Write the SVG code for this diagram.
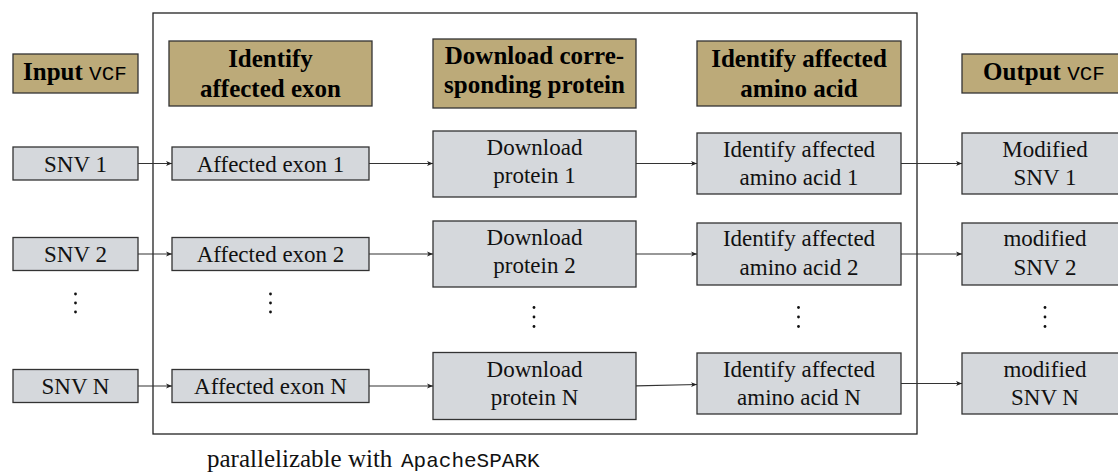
<svg xmlns="http://www.w3.org/2000/svg" width="1118" height="473" viewBox="0 0 1118 473">
  <style>
    .hdr { fill: #bcaa79; stroke: #333; stroke-width: 1.3; }
    .box { fill: #d5d8dc; stroke: #333; stroke-width: 1.3; }
    .ht { font-weight: bold; font-size: 25px; fill: #000; text-anchor: middle; }
    .bt { font-size: 23px; fill: #111; text-anchor: middle; }
    .cap { font-size: 25px; fill: #111; }
    .tt { font-weight: normal; font-size: 21px; }
    .edge { stroke: #333; stroke-width: 1.2; fill: none; marker-end: url(#tip); }
    .frame { fill: none; stroke: #222; stroke-width: 1.3; }
    .dot { fill: #111; }
  </style>
  <defs>
    <marker id="tip" markerUnits="userSpaceOnUse" markerWidth="7" markerHeight="6" refX="6" refY="3" orient="auto">
      <path d="M0,0.6 L6,3 L0,5.4 L1.6,3 z" fill="#222"/>
    </marker>
  </defs>

  <rect width="1118" height="473" fill="#fff"/>

  <!-- parallel section frame -->
  <rect id="spark-frame" class="frame" x="153" y="13" width="764" height="421"/>

  <g font-family="Liberation Serif, Times New Roman, serif">
  <!-- column headers -->
  <g id="hdr-input">
    <rect class="hdr" x="13" y="54" width="125" height="39"/>
    <text class="ht" x="75" y="80">Input <tspan class="tt" font-family="Liberation Mono, Courier New, monospace">VCF</tspan></text>
  </g>
  <g id="hdr-exon">
    <rect class="hdr" x="169" y="41" width="203" height="65"/>
    <text class="ht" x="270.5" y="66.5">Identify</text>
    <text class="ht" x="270.5" y="96.5">affected exon</text>
  </g>
  <g id="hdr-protein">
    <rect class="hdr" x="433" y="39" width="203" height="69"/>
    <text class="ht" x="534.5" y="63.5">Download corre-</text>
    <text class="ht" x="534.5" y="93">sponding protein</text>
  </g>
  <g id="hdr-amino">
    <rect class="hdr" x="697" y="41" width="204" height="65"/>
    <text class="ht" x="799" y="66.5">Identify affected</text>
    <text class="ht" x="799" y="96.5">amino acid</text>
  </g>
  <g id="hdr-output">
    <rect class="hdr" x="962" y="54" width="166" height="39"/>
    <text class="ht" x="1044" y="80">Output <tspan class="tt" font-family="Liberation Mono, Courier New, monospace">VCF</tspan></text>
  </g>

  <!-- row 1 -->
  <g id="snv1">
    <rect class="box" x="13" y="147" width="125" height="33"/>
    <text class="bt" x="75.5" y="171.5">SNV 1</text>
  </g>
  <g id="exon1">
    <rect class="box" x="172" y="147" width="197" height="33"/>
    <text class="bt" x="270.5" y="171.5">Affected exon 1</text>
  </g>
  <g id="protein1">
    <rect class="box" x="433" y="131" width="203" height="66"/>
    <text class="bt" x="534.5" y="155">Download</text>
    <text class="bt" x="534.5" y="183">protein 1</text>
  </g>
  <g id="amino1">
    <rect class="box" x="697" y="133" width="204" height="61"/>
    <text class="bt" x="799" y="156.5">Identify affected</text>
    <text class="bt" x="799" y="185">amino acid 1</text>
  </g>
  <g id="out1">
    <rect class="box" x="962" y="133" width="166" height="61"/>
    <text class="bt" x="1045" y="156.5">Modified</text>
    <text class="bt" x="1045" y="185">SNV 1</text>
  </g>

  <!-- row 2 -->
  <g id="snv2">
    <rect class="box" x="13" y="237.5" width="125" height="33"/>
    <text class="bt" x="75.5" y="262">SNV 2</text>
  </g>
  <g id="exon2">
    <rect class="box" x="172" y="237.5" width="197" height="33"/>
    <text class="bt" x="270.5" y="262">Affected exon 2</text>
  </g>
  <g id="protein2">
    <rect class="box" x="433" y="221" width="203" height="66"/>
    <text class="bt" x="534.5" y="245">Download</text>
    <text class="bt" x="534.5" y="273">protein 2</text>
  </g>
  <g id="amino2">
    <rect class="box" x="697" y="223" width="204" height="62"/>
    <text class="bt" x="799" y="246">Identify affected</text>
    <text class="bt" x="799" y="274.5">amino acid 2</text>
  </g>
  <g id="out2">
    <rect class="box" x="962" y="223" width="166" height="62"/>
    <text class="bt" x="1045" y="246">modified</text>
    <text class="bt" x="1045" y="274.5">SNV 2</text>
  </g>

  <!-- row N -->
  <g id="snvN">
    <rect class="box" x="13" y="369.5" width="125" height="33"/>
    <text class="bt" x="75.5" y="394">SNV N</text>
  </g>
  <g id="exonN">
    <rect class="box" x="172" y="369.5" width="197" height="33"/>
    <text class="bt" x="270.5" y="394">Affected exon N</text>
  </g>
  <g id="proteinN">
    <rect class="box" x="433" y="352.5" width="203" height="67"/>
    <text class="bt" x="534.5" y="377">Download</text>
    <text class="bt" x="534.5" y="405">protein N</text>
  </g>
  <g id="aminoN">
    <rect class="box" x="697" y="353" width="204" height="61"/>
    <text class="bt" x="799" y="376.5">Identify affected</text>
    <text class="bt" x="799" y="405">amino acid N</text>
  </g>
  <g id="outN">
    <rect class="box" x="962" y="353" width="166" height="61"/>
    <text class="bt" x="1045" y="376.5">modified</text>
    <text class="bt" x="1045" y="405">SNV N</text>
  </g>

  <!-- frame caption -->
  <text class="cap" x="207" y="466.5">parallelizable with <tspan class="tt" x="401" font-family="Liberation Mono, Courier New, monospace">ApacheSPARK</tspan></text>
  </g>

  <!-- vertical ellipses between row 2 and row N -->
  <g id="ellipses">
    <circle class="dot" cx="75.5" cy="294" r="1.4"/>
    <circle class="dot" cx="75.5" cy="303" r="1.4"/>
    <circle class="dot" cx="75.5" cy="312" r="1.4"/>
    <circle class="dot" cx="270.5" cy="294" r="1.4"/>
    <circle class="dot" cx="270.5" cy="303" r="1.4"/>
    <circle class="dot" cx="270.5" cy="312" r="1.4"/>
    <circle class="dot" cx="534" cy="307.5" r="1.4"/>
    <circle class="dot" cx="534" cy="317" r="1.4"/>
    <circle class="dot" cx="534" cy="326.5" r="1.4"/>
    <circle class="dot" cx="798.5" cy="307.5" r="1.4"/>
    <circle class="dot" cx="798.5" cy="317" r="1.4"/>
    <circle class="dot" cx="798.5" cy="326.5" r="1.4"/>
    <circle class="dot" cx="1045" cy="307.5" r="1.4"/>
    <circle class="dot" cx="1045" cy="317" r="1.4"/>
    <circle class="dot" cx="1045" cy="326.5" r="1.4"/>
  </g>

  <!-- connectors -->
  <g id="connectors">
    <line class="edge" x1="138" y1="163.5" x2="172" y2="163.5"/>
    <line class="edge" x1="369" y1="163.5" x2="433" y2="163.5"/>
    <line class="edge" x1="636" y1="163.5" x2="697" y2="163.5"/>
    <line class="edge" x1="901" y1="163.5" x2="962" y2="163.5"/>

    <line class="edge" x1="138" y1="254" x2="172" y2="254"/>
    <line class="edge" x1="369" y1="254" x2="433" y2="254"/>
    <line class="edge" x1="636" y1="254" x2="697" y2="254"/>
    <line class="edge" x1="901" y1="254" x2="962" y2="254"/>

    <line class="edge" x1="138" y1="386" x2="172" y2="386"/>
    <line class="edge" x1="369" y1="386" x2="433" y2="386"/>
    <line class="edge" x1="636" y1="385.8" x2="697" y2="384.5"/>
    <line class="edge" x1="901" y1="383.5" x2="962" y2="383.5"/>
  </g>
</svg>
